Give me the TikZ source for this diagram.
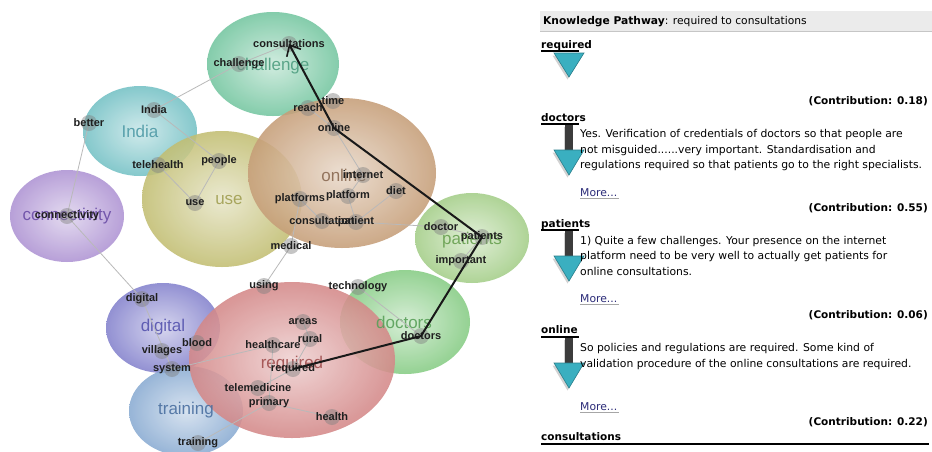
\documentclass[tikz,border=0pt]{standalone}
\usepackage{fontspec}
\setmainfont{DejaVu Sans}
\newfontfamily\lfont{Liberation Sans}
\usetikzlibrary{arrows.meta,shadows}

% cluster colours (rim) and their label colours
\definecolor{cChal}{HTML}{74C6A0}  \definecolor{cChalD}{HTML}{4E9E80}
\definecolor{cInd}{HTML}{74C1C5}   \definecolor{cIndD}{HTML}{4E9AA6}
\definecolor{cCon}{HTML}{AE93D3}   \definecolor{cConD}{HTML}{6A4CA6}
\definecolor{cUse}{HTML}{C2BE72}   \definecolor{cUseD}{HTML}{A19F52}
\definecolor{cOnl}{HTML}{C69E78}   \definecolor{cOnlD}{HTML}{8A6A52}
\definecolor{cPat}{HTML}{A4CE88}   \definecolor{cPatD}{HTML}{68A050}
\definecolor{cDoc}{HTML}{86CC84}   \definecolor{cDocD}{HTML}{58A058}
\definecolor{cReq}{HTML}{D48888}   \definecolor{cReqD}{HTML}{A04E4E}
\definecolor{cDig}{HTML}{8482CD}   \definecolor{cDigD}{HTML}{5553AE}
\definecolor{cTra}{HTML}{89ABD2}   \definecolor{cTraD}{HTML}{4A6FA0}
\definecolor{triFill}{HTML}{3AAFC0}
\definecolor{triLine}{HTML}{2A7F8C}
\definecolor{barGray}{HTML}{3C3C3C}
\definecolor{linkBlue}{HTML}{2B2B78}
\definecolor{headGray}{HTML}{EBEBEB}

\tikzset{
  cluster/.style={fill opacity=0.88, inner color=white!62!#1, outer color=#1},
  biglabel/.style={font=\lfont\fontsize{17}{17}\selectfont, text opacity=0.9, inner sep=0},
  word/.style={font=\lfont\bfseries\fontsize{11}{11}\selectfont, text=black!88, inner sep=0},
  disk/.style={fill=gray, fill opacity=0.45},
  link/.style={draw=gray!55, line width=0.8pt},
  pathway/.style={draw=black!90, line width=2pt, line join=round,
    -{Straight Barb[length=9pt,width=16pt,line width=1.6pt]}},
  stem/.style={fill=barGray, drop shadow={shadow xshift=-1.5pt, shadow yshift=-2pt, opacity=0.35}},
  tri/.style={fill=triFill, draw=triLine, line width=0.6pt,
    drop shadow={shadow xshift=-1.5pt, shadow yshift=-2.5pt, opacity=0.35}},
  topbar/.style={line width=2.6pt, draw=black},
  term/.style={font=\bfseries\fontsize{10.5}{10.5}\selectfont, anchor=base west, inner sep=0},
  contrib/.style={font=\bfseries\fontsize{10.5}{10.5}\selectfont, anchor=base east, inner sep=0},
  quote/.style={font=\fontsize{10.8}{10.8}\selectfont, anchor=base west, inner sep=0},
  more/.style={font=\fontsize{10.8}{10.8}\selectfont, anchor=base west, inner sep=0, text=linkBlue},
}

\begin{document}
\begin{tikzpicture}[x=1pt,y=-1pt]
\useasboundingbox (0,0) rectangle (932,451);
\fill[white] (0,0) rectangle (932,451);

% ---------------- topic clusters ----------------
\shade[cluster=cChal] (273,64) ellipse [x radius=66, y radius=52];
\shade[cluster=cInd]  (140,131) ellipse [x radius=57, y radius=45];
\shade[cluster=cCon]  (67,216) ellipse [x radius=57, y radius=46];
\shade[cluster=cUse]  (222,199) ellipse [x radius=80, y radius=68];
\shade[cluster=cOnl]  (342,173) ellipse [x radius=94, y radius=75];
\shade[cluster=cPat]  (472,238) ellipse [x radius=57, y radius=45];
\shade[cluster=cDig]  (163,328) ellipse [x radius=57, y radius=45];
\shade[cluster=cTra]  (186,411) ellipse [x radius=57, y radius=45];
\shade[cluster=cDoc]  (405,322) ellipse [x radius=65, y radius=52];
\shade[cluster=cReq]  (292,360) ellipse [x radius=103, y radius=78];

\node[biglabel, text=cChalD] (l-chal) at (273,66) {challenge};
\node[biglabel, text=cIndD]  (l-ind)  at (140,131) {India};
\node[biglabel, text=cConD]  (l-con)  at (67,216) {connectivity};
\node[biglabel, text=cUseD]  (l-use)  at (229,200) {use};
\node[biglabel, text=cOnlD]  (l-onl)  at (344,175) {online};
\node[biglabel, text=cPatD]  (l-pat)  at (472,240) {patients};
\node[biglabel, text=cDigD]  (l-dig)  at (163,327) {digital};
\node[biglabel, text=cTraD]  (l-tra)  at (186,410) {training};
\node[biglabel, text=cDocD]  (l-doc)  at (404,322) {doctors};
\node[biglabel, text=cReqD]  (l-req)  at (292,364) {required};

% ---------------- term positions ----------------
\coordinate (consultations) at (289,44);
\coordinate (challenge) at (239,64);
\coordinate (india) at (154,110);
\coordinate (better) at (89,123);
\coordinate (telehealth) at (158,165);
\coordinate (people) at (219,161);
\coordinate (use) at (195,203);
\coordinate (connectivity) at (67,216);
\coordinate (time) at (333,101);
\coordinate (reach) at (308,108);
\coordinate (online) at (334,128);
\coordinate (internet) at (363,175);
\coordinate (diet) at (396,191);
\coordinate (platform) at (348,196);
\coordinate (platforms) at (300,199);
\coordinate (consultation) at (322,221);
\coordinate (patient) at (356,222);
\coordinate (medical) at (291,246);
\coordinate (doctor) at (441,227);
\coordinate (patients) at (482,237);
\coordinate (important) at (461,261);
\coordinate (using) at (264,286);
\coordinate (technology) at (358,287);
\coordinate (areas) at (303,322);
\coordinate (rural) at (310,339);
\coordinate (healthcare) at (273,345);
\coordinate (required) at (293,369);
\coordinate (telemedicine) at (258,388);
\coordinate (primary) at (269,403);
\coordinate (health) at (332,417);
\coordinate (doctors) at (421,336);
\coordinate (digital) at (142,299);
\coordinate (blood) at (197,343);
\coordinate (villages) at (162,351);
\coordinate (system) at (172,369);
\coordinate (training) at (198,443);

% ---------------- co-occurrence links ----------------
\foreach \a/\b in {india/challenge, challenge/consultations, india/people,
  telehealth/use, people/use, better/connectivity, connectivity/digital,
  digital/system, system/healthcare, training/primary, medical/using,
  platforms/medical, platforms/consultation, reach/online, online/internet,
  internet/platform, platform/patient, diet/patient, consultation/patient,
  patient/doctor, doctor/patients, important/patients, technology/doctors,
  healthcare/primary, rural/required, areas/rural, telemedicine/required,
  primary/health}
  \draw[link] (\a) -- (\b);

\foreach \n in {consultations, challenge, india, better, telehealth, people, use,
  connectivity, time, reach, online, internet, diet, platform, platforms,
  consultation, patient, medical, doctor, patients, important, using, technology,
  areas, rural, healthcare, required, telemedicine, primary, health, doctors,
  digital, blood, villages, system, training}
  \fill[disk] (\n) circle (8);

% ---------------- term labels ----------------
\node[word] (t-consultations) at (consultations) {consultations};
\node[word] (t-challenge) at (challenge) {challenge};
\node[word] (t-india) at (india) {India};
\node[word] (t-better) at (better) {better};
\node[word] (t-telehealth) at (telehealth) {telehealth};
\node[word] (t-people) at (people) {people};
\node[word] (t-use) at (use) {use};
\node[word] (t-connectivity) at (connectivity) {connectivity};
\node[word] (t-time) at (time) {time};
\node[word] (t-reach) at (reach) {reach};
\node[word] (t-online) at (online) {online};
\node[word] (t-internet) at (internet) {internet};
\node[word] (t-diet) at (diet) {diet};
\node[word] (t-platform) at (platform) {platform};
\node[word] (t-platforms) at (platforms) {platforms};
\node[word] (t-consultation) at (consultation) {consultation};
\node[word] (t-patient) at (patient) {patient};
\node[word] (t-medical) at (medical) {medical};
\node[word] (t-doctor) at (doctor) {doctor};
\node[word] (t-patients) at (patients) {patients};
\node[word] (t-important) at (important) {important};
\node[word] (t-using) at (using) {using};
\node[word] (t-technology) at (technology) {technology};
\node[word] (t-areas) at (areas) {areas};
\node[word] (t-rural) at (rural) {rural};
\node[word] (t-healthcare) at (healthcare) {healthcare};
\node[word] (t-required) at (required) {required};
\node[word] (t-telemedicine) at (telemedicine) {telemedicine};
\node[word] (t-primary) at (primary) {primary};
\node[word] (t-health) at (health) {health};
\node[word] (t-doctors) at (doctors) {doctors};
\node[word] (t-digital) at (digital) {digital};
\node[word] (t-blood) at (blood) {blood};
\node[word] (t-villages) at (villages) {villages};
\node[word] (t-system) at (system) {system};
\node[word] (t-training) at (training) {training};

% ---------------- highlighted pathway ----------------
\draw[pathway] (required) -- (doctors) -- (patients) -- (online) -- (consultations);

% ---------------- pathway panel ----------------
\fill[headGray] (540,11) rectangle (932,31);
\draw[gray!45, line width=0.8pt] (540,31) -- (932,31);
\node[anchor=base west, inner sep=0, font=\fontsize{10.7}{10.7}\selectfont] (head) at (543,24.5)
  {\textbf{Knowledge Pathway}: required to consultations};

% step 1: required
\node[term] (s-required) at (541,48) {required};
\draw[topbar] (541,51) -- (579,51);
\path[tri] (554,53) -- (584,53) -- (569,77) -- cycle;
\node[contrib] (c1) at (928,104) {(Contribution: 0.18)};

% step 2: doctors
\node[term] (s-doctors) at (541,121) {doctors};
\fill[stem] (565,125) rectangle (573,151);
\draw[topbar] (541,124) -- (579,124);
\path[tri] (554,150) -- (584,150) -- (569,175) -- cycle;
\node[quote] (q2a) at (580,137) {Yes. Verification of credentials of doctors so that people are};
\node[quote] (q2b) at (580,153) {not misguided......very important. Standardisation and};
\node[quote] (q2c) at (580,168.5) {regulations required so that patients go to the right specialists.};
\node[more] (m2) at (580,196) {More...};
\draw[gray!70] (m2.base west) ++(0,2.5) -- ++(39,0);
\node[contrib] (c2) at (928,211) {(Contribution: 0.55)};

% step 3: patients
\node[term] (s-patients) at (541,227) {patients};
\fill[stem] (565,231) rectangle (573,257);
\draw[topbar] (541,230) -- (579,230);
\path[tri] (554,256) -- (584,256) -- (569,281) -- cycle;
\node[quote] (q3a) at (580,244) {1) Quite a few challenges. Your presence on the internet};
\node[quote] (q3b) at (580,259.5) {platform need to be very well to actually get patients for};
\node[quote] (q3c) at (580,275) {online consultations.};
\node[more] (m3) at (580,302) {More...};
\draw[gray!70] (m3.base west) ++(0,2.5) -- ++(39,0);
\node[contrib] (c3) at (928,318) {(Contribution: 0.06)};

% step 4: online
\node[term] (s-online) at (541,333) {online};
\fill[stem] (565,338) rectangle (573,364);
\draw[topbar] (541,337) -- (579,337);
\path[tri] (554,363) -- (584,363) -- (569,388) -- cycle;
\node[quote] (q4a) at (580,351) {So policies and regulations are required. Some kind of};
\node[quote] (q4b) at (580,367) {validation procedure of the online consultations are required.};
\node[more] (m4) at (580,410) {More...};
\draw[gray!70] (m4.base west) ++(0,2.5) -- ++(39,0);
\node[contrib] (c4) at (928,425) {(Contribution: 0.22)};

% end: consultations
\node[term] (s-consultations) at (541,440) {consultations};
\draw[topbar] (541,444) -- (929,444);
\end{tikzpicture}
\end{document}
